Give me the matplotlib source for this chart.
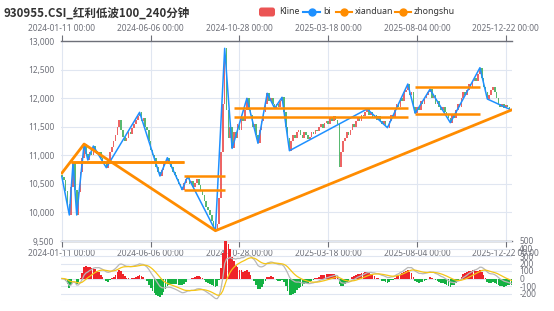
import numpy as np
import pandas as pd
import matplotlib
matplotlib.use('Agg')
import matplotlib.pyplot as plt
from matplotlib.patches import FancyBboxPatch
from matplotlib.lines import Line2D
from matplotlib.transforms import IdentityTransform
from matplotlib.ticker import FuncFormatter

title = '930955.CSI_红利低波100_240分钟'
tick_labels = ['2024-01-11 00:00', '2024-06-06 00:00', '2024-10-28 00:00',
               '2025-03-18 00:00', '2025-08-04 00:00', '2025-12-22 00:00']
tick_every = 48

# closes (one value per two sessions)
closes = [10620, 10560, 10380, 10150, 9955, 10450, 10860, 10400, 9955, 10350,
          10700, 10950, 11197, 11020, 10917, 11050, 11000, 11162, 11080, 11020,
          11060, 10950, 10900, 10860, 10783, 10900, 11050, 11150, 11250, 11350,
          11500, 11620, 11450, 11320, 11250, 11300, 11400, 11380, 11480, 11550,
          11620, 11680, 11752, 11600, 11650, 11500, 11450, 11250, 11100, 11000,
          10950, 10800, 10700, 10637, 10750, 10850, 10900, 10958, 10850, 10800,
          10700, 10650, 10580, 10500, 10450, 10400, 10520, 10580, 10630, 10500,
          10550, 10450, 10520, 10580, 10480, 10400, 10300, 10200, 10100, 10050,
          9950, 9850, 9750, 9680, 9800, 10250, 11050, 11900, 12872, 11800,
          11300, 11500, 11120, 11400, 11300, 11550, 11450, 11650, 11600, 11800,
          11997, 11800, 11700, 11500, 11550, 11350, 11210, 11450, 11600, 11750,
          11900, 12085, 11950, 12000, 11900, 11822, 11900, 11850, 11950, 12015,
          11750, 11500, 11300, 11080, 11250, 11350, 11300, 11400, 11450, 11350,
          11300, 11400, 11350, 11280, 11320, 11400, 11380, 11450, 11420, 11500,
          11550, 11480, 11560, 11600, 11550, 11650, 11600, 11680, 11620, 11550,
          10800, 11050, 11250, 11300, 11400, 11350, 11450, 11550, 11500, 11600,
          11650, 11600, 11700, 11680, 11750, 11810, 11700, 11750, 11650, 11700,
          11620, 11680, 11600, 11550, 11600, 11520, 11483, 11600, 11700, 11650,
          11800, 11900, 11850, 12000, 11950, 12100, 12150, 12247, 12050, 12100,
          11850, 11735, 11850, 11800, 11950, 11900, 12000, 12050, 12100, 12155,
          12000, 12050, 11900, 11950, 11850, 11800, 11850, 11750, 11700, 11650,
          11570, 11700, 11650, 11800, 11900, 11850, 12000, 12100, 12050, 12150,
          12250, 12200, 12300, 12350, 12300, 12420, 12533, 12350, 12200, 12100,
          11985, 12050, 12150, 12200, 12100, 12000, 11900, 11850, 11900, 11820,
          11880, 11850, 11800, 11792]
first_open = 10660

bi_idx = [0, 4, 6, 8, 12, 14, 17, 24, 42, 53, 57, 65, 68, 83, 88, 92, 100,
          106, 111, 115, 119, 123, 165, 176, 187, 191, 199, 210, 226, 230, 243]
bi_val = [10620, 9955, 10860, 9955, 11197, 10917, 11162, 10783, 11752, 10637,
          10958, 10400, 10630, 9680, 12872, 11120, 11997, 11210, 12085, 11822,
          12015, 11080, 11810, 11483, 12247, 11735, 12155, 11570, 12533, 11985,
          11792]

xd_idx = [0, 12, 83, 243]
xd_val = [10690, 11197, 9680, 11792]

zs_start = [5, 66, 93, 191]
zs_end = [66, 88, 187, 226]
zs_low = [10875, 10392, 11675, 11722]
zs_high = [10875, 10637, 11830, 12200]

UP = '#eb5454'
DOWN = '#47b262'
BLUE = '#1e90ff'
ORANGE = '#ff8c00'
GRID = '#e0e6f1'
AXC = '#6e7079'

W, H = 554, 311
fig = plt.figure(figsize=(W / 100, H / 100), dpi=100)
plt.rcParams['font.family'] = ['Noto Sans', 'Noto Sans CJK SC', 'DejaVu Sans']

ax = fig.add_axes([61 / W, 1 - 241 / H, 451.3 / W, 200 / H])
ax2 = fig.add_axes([61 / W, 1 - 301 / H, 451.3 / W, 60 / H])

n = len(closes)
x = np.arange(n)
c = np.array(closes, dtype=float)
o = np.concatenate([[first_open], c[:-1]])
cols = [UP if cc >= oo else DOWN for oo, cc in zip(o, c)]
body = np.where(np.abs(c - o) < 8, 8, c - o)
ax.bar(x, body, bottom=o, width=0.85, color=cols, alpha=0.9, zorder=2)

ax.plot(bi_idx, bi_val, color=BLUE, lw=1.1, zorder=4)
ax.plot(xd_idx, xd_val, color=ORANGE, lw=2.0, zorder=5)
# zhongshu: upper and lower edges
ax.hlines(zs_high, zs_start, zs_end, color=ORANGE, lw=1.8, zorder=5)
ax.hlines(zs_low, zs_start, zs_end, color=ORANGE, lw=1.8, zorder=5)

ax.set_xlim(-0.5, n - 0.5)
ax.set_ylim(9500, 13000)
ax.set_yticks(np.arange(9500, 13001, 500))
ax.yaxis.set_major_formatter(FuncFormatter(lambda v, p: f'{int(v):,}'))
ticks = np.arange(0, n, tick_every)
ax.set_xticks(ticks)
ax.set_xticklabels(tick_labels)
ax.grid(True, color=GRID, lw=0.8, zorder=0)
ax.set_axisbelow(True)
for sp in ['left', 'right']:
    ax.spines[sp].set_visible(False)
for sp in ['top', 'bottom']:
    ax.spines[sp].set_color(AXC)
    ax.spines[sp].set_linewidth(1.0)
ax.tick_params(axis='x', top=True, labeltop=True, length=4, color=AXC,
               labelsize=6, labelcolor=AXC, pad=1.5)
ax.tick_params(axis='y', length=0, labelsize=6, labelcolor=AXC, pad=5)

# MACD from the closes
s = pd.Series(c)
dif = s.ewm(span=12, adjust=False).mean() - s.ewm(span=26, adjust=False).mean()
dea = dif.ewm(span=9, adjust=False).mean()
hist = 2 * (dif - dea)
hcols = ['#ef232a' if h >= 0 else '#14b143' for h in hist]
ax2.bar(x, hist, width=0.9, color=hcols, zorder=2)
ax2.plot(x, dif, color='#b8b8b8', lw=0.9, zorder=3)
ax2.plot(x, dea, color='#f5c518', lw=0.9, zorder=3)
ax2.set_xlim(-0.5, n - 0.5)
ax2.set_ylim(-300, 500)
ax2.set_yticks(np.arange(-300, 501, 100))
ax2.set_yticklabels([''] + [str(v) for v in range(-200, 501, 100)])
ax2.yaxis.tick_right()
ax2.tick_params(axis='y', length=0, labelsize=6, labelcolor=AXC, pad=5)
ax2.set_xticks([])
ax2.grid(True, axis='y', color=GRID, lw=0.8, zorder=0)
ax2.set_axisbelow(True)
for sp in ax2.spines.values():
    sp.set_visible(False)
ax2.patch.set_alpha(0)

# title and legend
fig.text(4 / W, 1 - 13 / H, title, fontsize=8.3, fontweight='bold',
         color='#333333', va='center', ha='left',
         family=['Noto Sans CJK SC', 'DejaVu Sans'])
tr = IdentityTransform()
ly = H - 12
fig.patches.append(FancyBboxPatch((259, ly - 4.5), 16, 9,
                                  boxstyle='round,pad=0,rounding_size=2.5',
                                  fc=UP, ec='none', transform=tr))
fig.text(279 / W, ly / H, 'Kline', fontsize=6.3, color='#333333', va='center')
for x0, x1, col, lab in [(303, 320, BLUE, 'bi'), (336, 352, ORANGE, 'xianduan'),
                         (395, 411, ORANGE, 'zhongshu')]:
    fig.lines.append(Line2D([x0, x1], [ly, ly], color=col, lw=1.5, transform=tr))
    fig.lines.append(Line2D([(x0 + x1) / 2], [ly], color=col, marker='o',
                            markersize=5, transform=tr))
    fig.text((x1 + 3) / W, ly / H, lab, fontsize=6.3, color='#333333', va='center')

fig.savefig('out.png', dpi=100)
